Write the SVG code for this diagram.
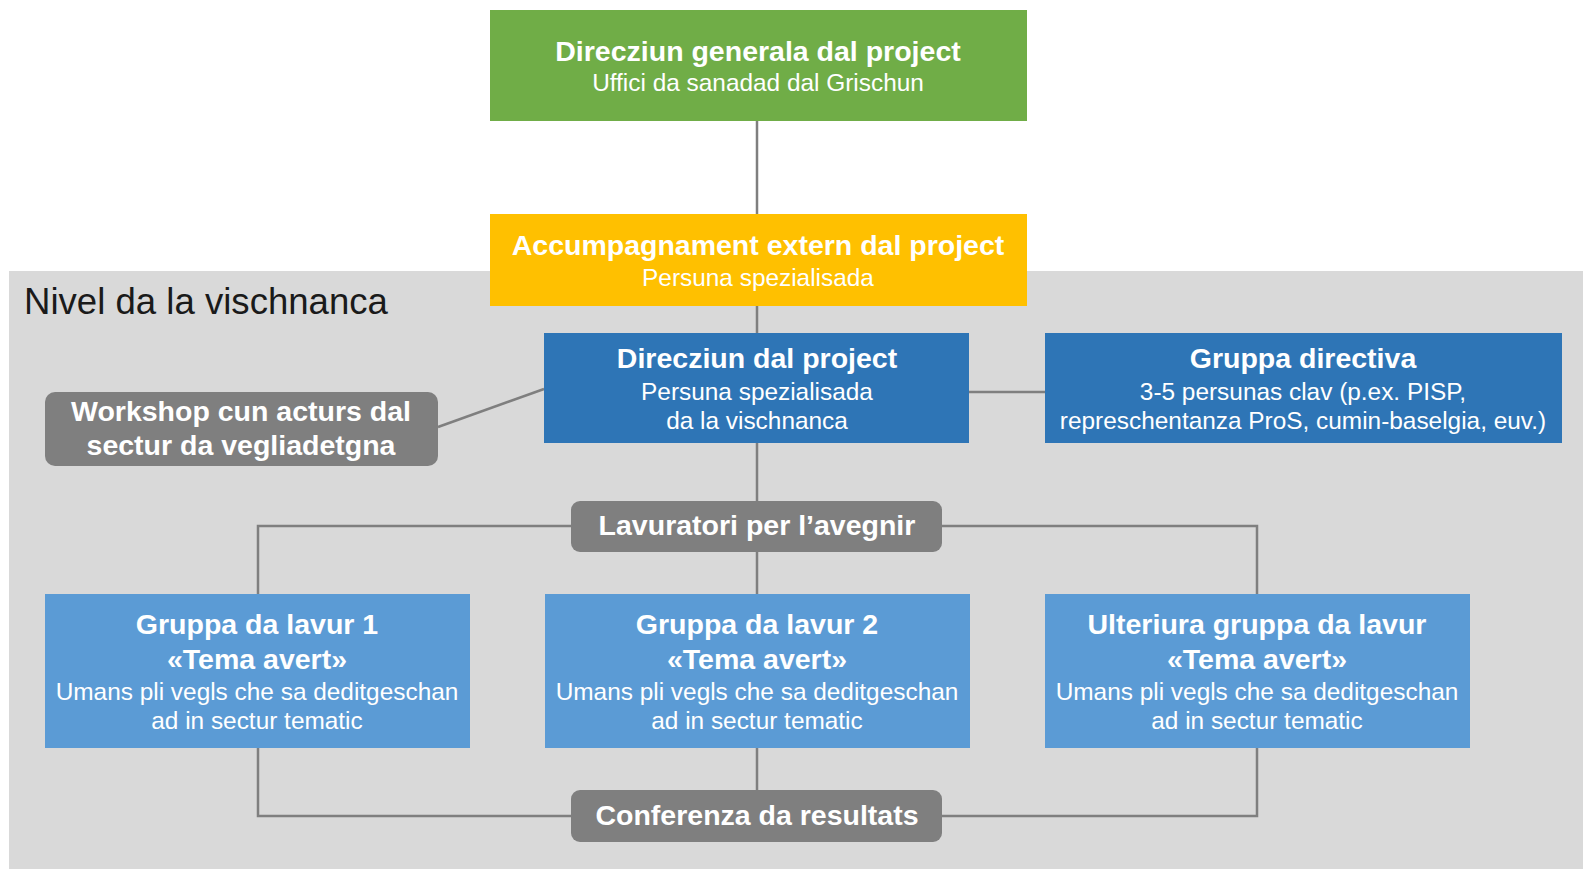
<svg xmlns="http://www.w3.org/2000/svg" width="1583" height="869" viewBox="0 0 1583 869">
<style>
.t{font-family:"Liberation Sans",Arial,sans-serif;fill:#ffffff;text-anchor:middle}
.b{font-weight:bold;font-size:28.5px}
.r{font-size:24.4px}
.green{fill:#70ad47}
.yellow{fill:#ffc000}
.dark{fill:#2e75b6}
.light{fill:#5b9bd5}
.grey{fill:#7f7f7f}
.conn{fill:none;stroke:#7f7f7f;stroke-width:2.5}
</style>
<rect x="0" y="0" width="1583" height="869" fill="#ffffff"/>
<g id="level">
<rect x="9" y="271" width="1574" height="598" fill="#d9d9d9"/>
<text x="24" y="314" font-family="Liberation Sans,Arial,sans-serif" font-size="36.6" fill="#1a1a1a">Nivel da la vischnanca</text>
</g>
<g id="connectors">
<line class="conn" x1="757" y1="121" x2="757" y2="214"/>
<line class="conn" x1="757" y1="306" x2="757" y2="333"/>
<line class="conn" x1="757" y1="443" x2="757" y2="501"/>
<line class="conn" x1="757" y1="552" x2="757" y2="594"/>
<line class="conn" x1="757" y1="748" x2="757" y2="790"/>
<line class="conn" x1="969" y1="392" x2="1045" y2="392"/>
<line class="conn" x1="438" y1="427" x2="544" y2="389"/>
<polyline class="conn" points="571,526 258,526 258,594"/>
<polyline class="conn" points="942,526 1257,526 1257,594"/>
<polyline class="conn" points="258,748 258,816 571,816"/>
<polyline class="conn" points="1257,748 1257,816 942,816"/>
</g>
<g id="n-general">
<rect class="green" x="490" y="10" width="537" height="111"/>
<text class="t b" x="758" y="61">Direcziun generala dal project</text>
<text class="t r" x="758" y="91">Uffici da sanadad dal Grischun</text>
</g>
<g id="n-accumpagnament">
<rect class="yellow" x="490" y="214" width="537" height="92"/>
<text class="t b" x="758" y="255">Accumpagnament extern dal project</text>
<text class="t r" x="758" y="286">Persuna spezialisada</text>
</g>
<g id="n-direcziun">
<rect class="dark" x="544" y="333" width="425" height="110"/>
<text class="t b" x="757" y="368">Direcziun dal project</text>
<text class="t r" x="757" y="400">Persuna spezialisada</text>
<text class="t r" x="757" y="429">da la vischnanca</text>
</g>
<g id="n-gruppa-directiva">
<rect class="dark" x="1045" y="333" width="517" height="110"/>
<text class="t b" x="1303" y="368">Gruppa directiva</text>
<text class="t r" x="1303" y="400">3-5 persunas clav (p.ex. PISP,</text>
<text class="t r" x="1303" y="429">represchentanza ProS, cumin-baselgia, euv.)</text>
</g>
<g id="n-workshop">
<rect class="grey" x="45" y="392" width="393" height="74" rx="10"/>
<text class="t b" x="241" y="421">Workshop cun acturs dal</text>
<text class="t b" x="241" y="455">sectur da vegliadetgna</text>
</g>
<g id="n-lavuratori">
<rect class="grey" x="571" y="501" width="371" height="51" rx="9"/>
<text class="t b" x="757" y="535">Lavuratori per l’avegnir</text>
</g>
<g id="n-gruppa1">
<rect class="light" x="45" y="594" width="425" height="154"/>
<text class="t b" x="257" y="634">Gruppa da lavur 1</text>
<text class="t b" x="257" y="669">«Tema avert»</text>
<text class="t r" x="257" y="700">Umans pli vegls che sa deditgeschan</text>
<text class="t r" x="257" y="729">ad in sectur tematic</text>
</g>
<g id="n-gruppa2">
<rect class="light" x="545" y="594" width="425" height="154"/>
<text class="t b" x="757" y="634">Gruppa da lavur 2</text>
<text class="t b" x="757" y="669">«Tema avert»</text>
<text class="t r" x="757" y="700">Umans pli vegls che sa deditgeschan</text>
<text class="t r" x="757" y="729">ad in sectur tematic</text>
</g>
<g id="n-ulteriura">
<rect class="light" x="1045" y="594" width="425" height="154"/>
<text class="t b" x="1257" y="634">Ulteriura gruppa da lavur</text>
<text class="t b" x="1257" y="669">«Tema avert»</text>
<text class="t r" x="1257" y="700">Umans pli vegls che sa deditgeschan</text>
<text class="t r" x="1257" y="729">ad in sectur tematic</text>
</g>
<g id="n-conferenza">
<rect class="grey" x="571" y="790" width="371" height="52" rx="9"/>
<text class="t b" x="757" y="825">Conferenza da resultats</text>
</g>
</svg>
